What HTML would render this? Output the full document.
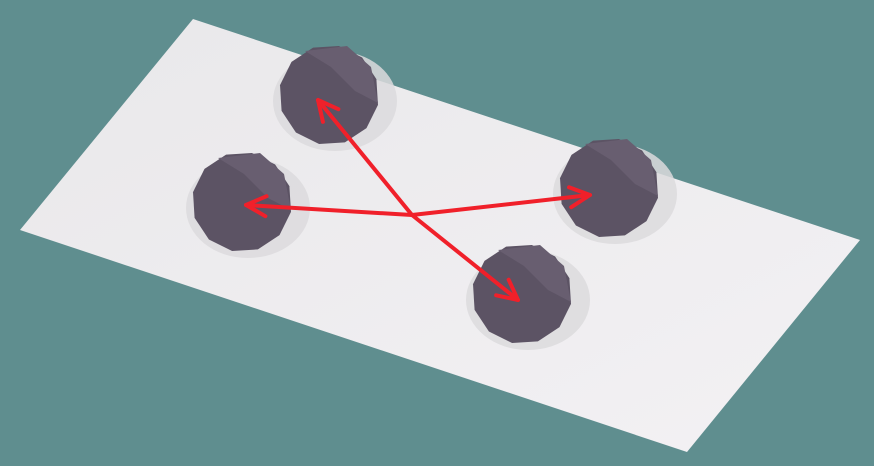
<!DOCTYPE html>
<html><head><meta charset="utf-8"><style>
html,body{margin:0;padding:0;background:#5f8e8f;}
svg{display:block;}
</style></head><body>
<svg width="874" height="466" viewBox="0 0 874 466">
<defs>
<linearGradient id="pl" x1="0" y1="0" x2="1" y2="1">
<stop offset="0" stop-color="#e9e8ea"/><stop offset="1" stop-color="#f3f1f4"/>
</linearGradient>
</defs>
<rect width="874" height="466" fill="#5f8e8f"/>
<polygon points="193,19 860,240 687,452 20,230" fill="url(#pl)"/>
<g id="balls"></g>
<g id="arrows"></g>
</svg>
<script>
const ballX=[329,242,609,522];
const ballY=[95,202,188,294];
const tipX=[318,246,590,518];
const tipY=[100,205,195,300];
const hubX=412, hubY=215;
const NS='http://www.w3.org/2000/svg';
const bg=document.getElementById('balls');
function poly(cx,cy,r,n,rot){let p=[];for(let i=0;i<n;i++){const a=rot+i*2*Math.PI/n;p.push((cx+r*Math.cos(a)).toFixed(1)+','+(cy+r*Math.sin(a)).toFixed(1));}return p.join(' ');}
for(let i=0;i<ballX.length;i++){
  const g=document.createElementNS(NS,'g');
  
  
  const cx=ballX[i],cy=ballY[i];
  const sh=document.createElementNS(NS,'ellipse');
  sh.setAttribute('cx',cx+6);sh.setAttribute('cy',cy+6);sh.setAttribute('rx',62);sh.setAttribute('ry',50);
  sh.setAttribute('fill','#dcdadd');sh.setAttribute('opacity','0.85');
  
  
  g.appendChild(sh);
  const body=document.createElementNS(NS,'polygon');
  body.setAttribute('points',poly(cx,cy,50,12,0.2));
  body.setAttribute('fill','#5c5364');
  
  
  g.appendChild(body);
  const top=document.createElementNS(NS,'polygon');
  top.setAttribute('points',`${cx-24},${cy-44} ${cx+18},${cy-49} ${cx+42},${cy-28} ${cx+49},${cy+8} ${cx+26},${cy-4} ${cx+2},${cy-28}`);
  top.setAttribute('fill','#685e70');
  
  
  g.appendChild(top);
  bg.appendChild(g);
}
const ag=document.getElementById('arrows');
for(let i=0;i<tipX.length;i++){
  const l=document.createElementNS(NS,'line');
  l.setAttribute('x1',hubX);l.setAttribute('y1',hubY);l.setAttribute('x2',tipX[i]);l.setAttribute('y2',tipY[i]);
  l.setAttribute('stroke','#f0202a');l.setAttribute('stroke-width','4');l.setAttribute('stroke-linecap','round');
  
  
  ag.appendChild(l);
  const dx=tipX[i]-hubX,dy=tipY[i]-hubY,len=Math.hypot(dx,dy),ux=dx/len,uy=dy/len;
  const bx=tipX[i]-ux*20,by=tipY[i]-uy*20,px=-uy*10,py=ux*10;
  const h=document.createElementNS(NS,'polyline');
  h.setAttribute('points',`${bx+px},${by+py} ${tipX[i]},${tipY[i]} ${bx-px},${by-py}`);
  h.setAttribute('fill','none');h.setAttribute('stroke','#f0202a');h.setAttribute('stroke-width','4');h.setAttribute('stroke-linecap','round');h.setAttribute('stroke-linejoin','round');
  
  
  ag.appendChild(h);
}
</script>
</body></html>
